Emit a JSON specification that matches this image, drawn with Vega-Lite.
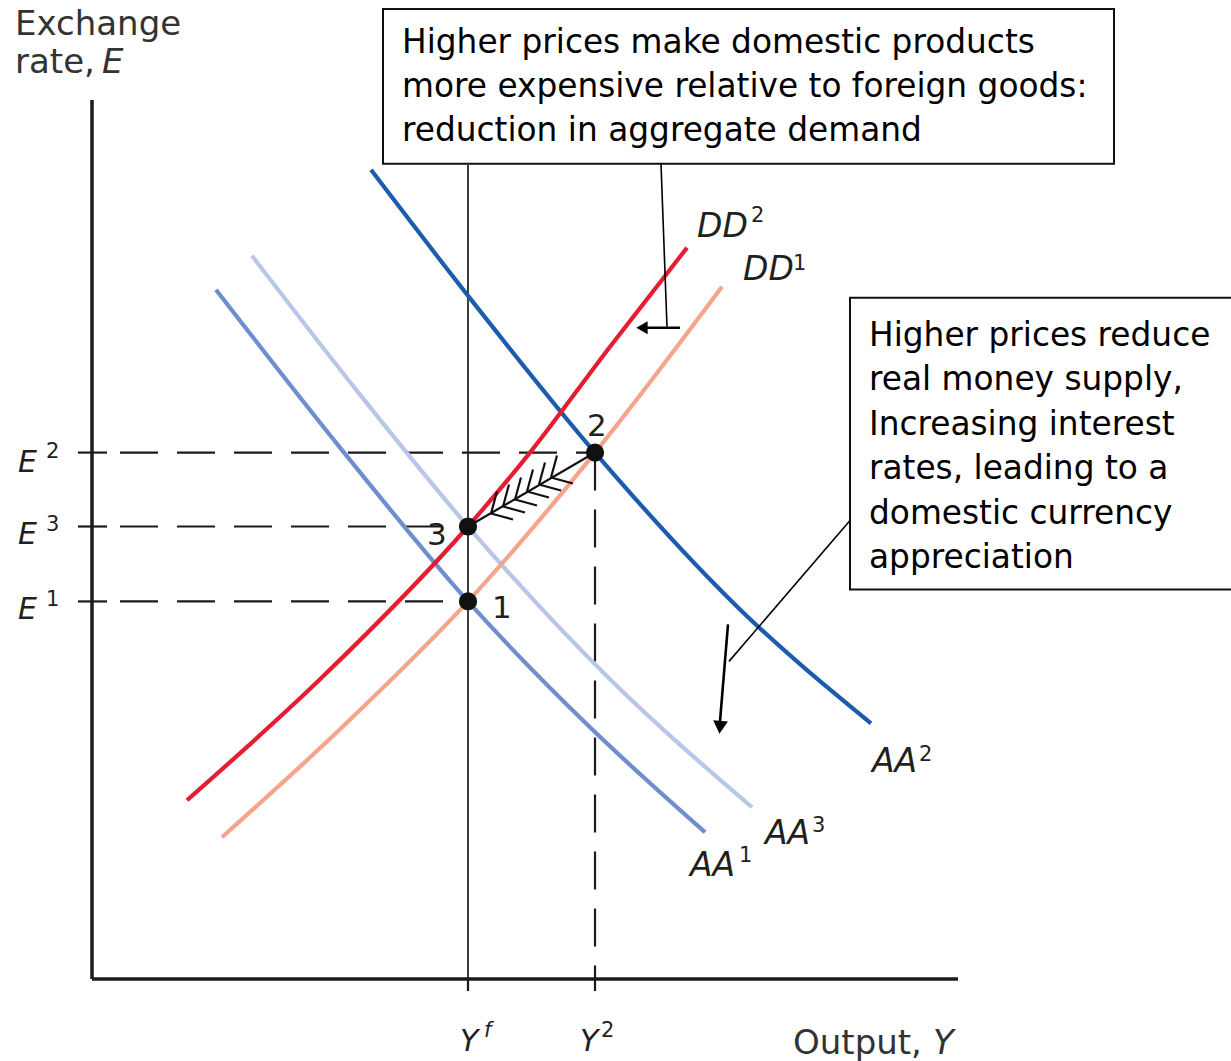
{
  "$schema": "https://vega.github.io/schema/vega-lite/v6.json",
  "width": 1231,
  "height": 1061,
  "autosize": {"type": "fit", "contains": "padding"},
  "padding": 0,
  "background": "white",
  "config": {"view": {"stroke": null}},
  "datasets": {
    "curves": [
      {"curve": "AA1", "x": 124, "y": 690}, {"curve": "AA1", "x": 248, "y": 532}, {"curve": "AA1", "x": 376, "y": 378}, {"curve": "AA1", "x": 498, "y": 252}, {"curve": "AA1", "x": 613, "y": 147},
      {"curve": "AA3", "x": 160, "y": 724}, {"curve": "AA3", "x": 268, "y": 585}, {"curve": "AA3", "x": 376, "y": 453}, {"curve": "AA3", "x": 518, "y": 300}, {"curve": "AA3", "x": 660, "y": 172},
      {"curve": "AA2", "x": 279, "y": 810}, {"curve": "AA2", "x": 376, "y": 684}, {"curve": "AA2", "x": 503, "y": 527}, {"curve": "AA2", "x": 648, "y": 370}, {"curve": "AA2", "x": 779, "y": 256},
      {"curve": "DD1", "x": 130, "y": 142}, {"curve": "DD1", "x": 248, "y": 250}, {"curve": "DD1", "x": 376, "y": 378}, {"curve": "DD1", "x": 503, "y": 527}, {"curve": "DD1", "x": 630, "y": 693},
      {"curve": "DD2", "x": 95, "y": 179}, {"curve": "DD2", "x": 228, "y": 300}, {"curve": "DD2", "x": 376, "y": 453}, {"curve": "DD2", "x": 438, "y": 527}, {"curve": "DD2", "x": 518, "y": 633}, {"curve": "DD2", "x": 595, "y": 732}
    ],
    "segments": [
      {"role": "axis", "x": 0, "y": 0, "x2": 0, "y2": 880},
      {"role": "axis", "x": 0, "y": 0, "x2": 866, "y2": 0},
      {"role": "tick", "x": -14, "y": 527, "x2": 15, "y2": 527},
      {"role": "tick", "x": -14, "y": 453, "x2": 15, "y2": 453},
      {"role": "tick", "x": -14, "y": 378, "x2": 15, "y2": 378},
      {"role": "tick", "x": 376, "y": 0, "x2": 376, "y2": -12},
      {"role": "tick", "x": 503, "y": 0, "x2": 503, "y2": -12},
      {"role": "guide", "x": 376, "y": 815, "x2": 376, "y2": 0},
      {"role": "dashed", "x": 28, "y": 527, "x2": 503, "y2": 527},
      {"role": "dashed", "x": 28, "y": 453, "x2": 376, "y2": 453},
      {"role": "dashed", "x": 28, "y": 378, "x2": 376, "y2": 378},
      {"role": "dashed", "x": 503, "y": 527, "x2": 503, "y2": 0},
      {"role": "leader", "x": 569, "y": 816, "x2": 575, "y2": 653},
      {"role": "leader", "x": 758, "y": 459, "x2": 637, "y2": 318},
      {"role": "shaft", "x": 588, "y": 652, "x2": 553, "y2": 652},
      {"role": "shaft", "x": 636, "y": 355, "x2": 628, "y2": 258},
      {"role": "feather", "x": 503, "y": 527, "x2": 376, "y2": 453},
      {"role": "feather", "x": 399, "y": 466, "x2": 405, "y2": 488},
      {"role": "feather", "x": 411, "y": 473, "x2": 417, "y2": 495},
      {"role": "feather", "x": 423, "y": 480, "x2": 429, "y2": 502},
      {"role": "feather", "x": 435, "y": 488, "x2": 441, "y2": 510},
      {"role": "feather", "x": 447, "y": 495, "x2": 453, "y2": 517},
      {"role": "feather", "x": 459, "y": 502, "x2": 465, "y2": 524},
      {"role": "feather", "x": 399, "y": 466, "x2": 421, "y2": 460},
      {"role": "feather", "x": 411, "y": 473, "x2": 433, "y2": 467},
      {"role": "feather", "x": 423, "y": 480, "x2": 445, "y2": 474},
      {"role": "feather", "x": 435, "y": 488, "x2": 457, "y2": 482},
      {"role": "feather", "x": 447, "y": 495, "x2": 469, "y2": 489},
      {"role": "feather", "x": 459, "y": 502, "x2": 481, "y2": 496}
    ],
    "boxes": [
      {"box": "demand", "x": 291, "y": 971, "x2": 1022, "y2": 816},
      {"box": "money", "x": 758, "y": 682, "x2": 1150, "y2": 390}
    ],
    "points": [
      {"role": "dot", "label": "1", "x": 376, "y": 378},
      {"role": "dot", "label": "2", "x": 503, "y": 527},
      {"role": "dot", "label": "3", "x": 376, "y": 453},
      {"role": "head-left", "label": "demand shift", "x": 550, "y": 652},
      {"role": "head-down", "label": "money shift", "x": 628, "y": 252}
    ],
    "texts": [
      {"role": "note", "x": 310, "y": 927, "label": "Higher prices make domestic products"},
      {"role": "note", "x": 310, "y": 883, "label": "more expensive relative to foreign goods:"},
      {"role": "note", "x": 310, "y": 839, "label": "reduction in aggregate demand"},
      {"role": "note", "x": 777, "y": 634, "label": "Higher prices reduce"},
      {"role": "note", "x": 777, "y": 590, "label": "real money supply,"},
      {"role": "note", "x": 777, "y": 545, "label": "Increasing interest"},
      {"role": "note", "x": 777, "y": 501, "label": "rates, leading to a"},
      {"role": "note", "x": 777, "y": 456, "label": "domestic currency"},
      {"role": "note", "x": 777, "y": 411, "label": "appreciation"},
      {"role": "title", "x": -77, "y": 945, "label": "Exchange"},
      {"role": "title", "x": -77, "y": 907, "label": "rate,"},
      {"role": "titlevar", "x": 10, "y": 907, "label": "E"},
      {"role": "title", "x": 701, "y": -75, "label": "Output,"},
      {"role": "titlevar", "x": 841, "y": -75, "label": "Y"},
      {"role": "tickvar", "x": -74, "y": 508, "label": "E"},
      {"role": "tickvar", "x": -74, "y": 435, "label": "E"},
      {"role": "tickvar", "x": -74, "y": 360, "label": "E"},
      {"role": "tickvar", "x": 368, "y": -72, "label": "Y"},
      {"role": "tickvar", "x": 488, "y": -72, "label": "Y"},
      {"role": "sup", "x": -46, "y": 522, "label": "2"},
      {"role": "sup", "x": -46, "y": 448, "label": "3"},
      {"role": "sup", "x": -46, "y": 373, "label": "1"},
      {"role": "sup", "x": 509, "y": -58, "label": "2"},
      {"role": "supvar", "x": 392, "y": -58, "label": "f"},
      {"role": "curve", "x": 605, "y": 743, "label": "DD"},
      {"role": "curve", "x": 651, "y": 700, "label": "DD"},
      {"role": "curve", "x": 780, "y": 207, "label": "AA"},
      {"role": "curve", "x": 673, "y": 135, "label": "AA"},
      {"role": "curve", "x": 598, "y": 103, "label": "AA"},
      {"role": "sup", "x": 659, "y": 758, "label": "2"},
      {"role": "sup", "x": 701, "y": 710, "label": "1"},
      {"role": "sup", "x": 827, "y": 218, "label": "2"},
      {"role": "sup", "x": 720, "y": 147, "label": "3"},
      {"role": "sup", "x": 647, "y": 117, "label": "1"},
      {"role": "point", "x": 400, "y": 361, "label": "1"},
      {"role": "point", "x": 495, "y": 544, "label": "2"},
      {"role": "point", "x": 335, "y": 434, "label": "3"}
    ]
  },
  "encoding": {
    "x": {"field": "x", "type": "quantitative", "scale": {"domain": [-92, 1139], "nice": false, "zero": false}, "axis": null},
    "y": {"field": "y", "type": "quantitative", "scale": {"domain": [-81, 980], "nice": false, "zero": false}, "axis": null}
  },
  "layer": [
    {
      "data": {"name": "segments"},
      "transform": [{"filter": "datum.role === 'dashed'"}],
      "mark": {"type": "rule", "color": "#1a1a1a", "strokeWidth": 2.2, "strokeDash": [38, 19]},
      "encoding": {"x2": {"field": "x2"}, "y2": {"field": "y2"}}
    },
    {
      "data": {"name": "segments"},
      "transform": [{"filter": "datum.role === 'guide'"}],
      "mark": {"type": "rule", "color": "#2a2a2a", "strokeWidth": 1.8},
      "encoding": {"x2": {"field": "x2"}, "y2": {"field": "y2"}}
    },
    {
      "data": {"name": "curves"},
      "mark": {"type": "line", "strokeWidth": 4.2, "interpolate": "monotone", "strokeCap": "butt"},
      "encoding": {
        "color": {"field": "curve", "type": "nominal", "legend": null,
          "scale": {"domain": ["AA1", "AA2", "AA3", "DD1", "DD2"], "range": ["#6e8ecf", "#1c5bad", "#b8c6e8", "#f6a48c", "#e51d31"]}},
        "detail": {"field": "curve"}
      }
    },
    {
      "data": {"name": "segments"},
      "transform": [{"filter": "datum.role === 'axis'"}],
      "mark": {"type": "rule", "color": "#1a1a1a", "strokeWidth": 3.5},
      "encoding": {"x2": {"field": "x2"}, "y2": {"field": "y2"}}
    },
    {
      "data": {"name": "segments"},
      "transform": [{"filter": "datum.role === 'tick'"}],
      "mark": {"type": "rule", "color": "#1a1a1a", "strokeWidth": 2.2},
      "encoding": {"x2": {"field": "x2"}, "y2": {"field": "y2"}}
    },
    {
      "data": {"name": "boxes"},
      "mark": {"type": "rect", "fill": "white", "stroke": "#111", "strokeWidth": 2, "clip": true},
      "encoding": {"x2": {"field": "x2"}, "y2": {"field": "y2"}}
    },
    {
      "data": {"name": "segments"},
      "transform": [{"filter": "datum.role === 'leader'"}],
      "mark": {"type": "rule", "color": "#000", "strokeWidth": 1.6},
      "encoding": {"x2": {"field": "x2"}, "y2": {"field": "y2"}}
    },
    {
      "data": {"name": "segments"},
      "transform": [{"filter": "datum.role === 'shaft'"}],
      "mark": {"type": "rule", "color": "#000", "strokeWidth": 2.6},
      "encoding": {"x2": {"field": "x2"}, "y2": {"field": "y2"}}
    },
    {
      "data": {"name": "segments"},
      "transform": [{"filter": "datum.role === 'feather'"}],
      "mark": {"type": "rule", "color": "#111", "strokeWidth": 2.2},
      "encoding": {"x2": {"field": "x2"}, "y2": {"field": "y2"}}
    },
    {
      "data": {"name": "points"},
      "transform": [{"filter": "datum.role === 'dot'"}],
      "mark": {"type": "point", "shape": "circle", "filled": true, "color": "#111", "size": 330, "opacity": 1}
    },
    {
      "data": {"name": "points"},
      "transform": [{"filter": "datum.role === 'head-left'"}],
      "mark": {"type": "point", "shape": "triangle-left", "filled": true, "color": "#000", "size": 170, "opacity": 1}
    },
    {
      "data": {"name": "points"},
      "transform": [{"filter": "datum.role === 'head-down'"}],
      "mark": {"type": "point", "shape": "triangle-down", "filled": true, "color": "#000", "size": 220, "angle": 5, "opacity": 1}
    },
    {
      "data": {"name": "texts"},
      "transform": [{"filter": "datum.role === 'note'"}],
      "mark": {"type": "text", "font": "DejaVu Sans", "fontSize": 32.8, "align": "left", "baseline": "alphabetic", "color": "#000"},
      "encoding": {"text": {"field": "label"}}
    },
    {
      "data": {"name": "texts"},
      "transform": [{"filter": "datum.role === 'title'"}],
      "mark": {"type": "text", "font": "DejaVu Sans", "fontSize": 34, "align": "left", "baseline": "alphabetic", "color": "#333"},
      "encoding": {"text": {"field": "label"}}
    },
    {
      "data": {"name": "texts"},
      "transform": [{"filter": "datum.role === 'titlevar'"}],
      "mark": {"type": "text", "font": "DejaVu Sans", "fontStyle": "italic", "fontSize": 34, "align": "left", "baseline": "alphabetic", "color": "#333"},
      "encoding": {"text": {"field": "label"}}
    },
    {
      "data": {"name": "texts"},
      "transform": [{"filter": "datum.role === 'tickvar'"}],
      "mark": {"type": "text", "font": "DejaVu Sans", "fontStyle": "italic", "fontSize": 30, "align": "left", "baseline": "alphabetic", "color": "#231f20"},
      "encoding": {"text": {"field": "label"}}
    },
    {
      "data": {"name": "texts"},
      "transform": [{"filter": "datum.role === 'curve'"}],
      "mark": {"type": "text", "font": "DejaVu Sans", "fontStyle": "italic", "fontSize": 33, "align": "left", "baseline": "alphabetic", "color": "#231f20"},
      "encoding": {"text": {"field": "label"}}
    },
    {
      "data": {"name": "texts"},
      "transform": [{"filter": "datum.role === 'sup'"}],
      "mark": {"type": "text", "font": "DejaVu Sans", "fontSize": 21, "align": "left", "baseline": "alphabetic", "color": "#231f20"},
      "encoding": {"text": {"field": "label"}}
    },
    {
      "data": {"name": "texts"},
      "transform": [{"filter": "datum.role === 'supvar'"}],
      "mark": {"type": "text", "font": "DejaVu Sans", "fontStyle": "italic", "fontSize": 21, "align": "left", "baseline": "alphabetic", "color": "#231f20"},
      "encoding": {"text": {"field": "label"}}
    },
    {
      "data": {"name": "texts"},
      "transform": [{"filter": "datum.role === 'point'"}],
      "mark": {"type": "text", "font": "DejaVu Sans", "fontSize": 31, "align": "left", "baseline": "alphabetic", "color": "#231f20"},
      "encoding": {"text": {"field": "label"}}
    }
  ]
}
